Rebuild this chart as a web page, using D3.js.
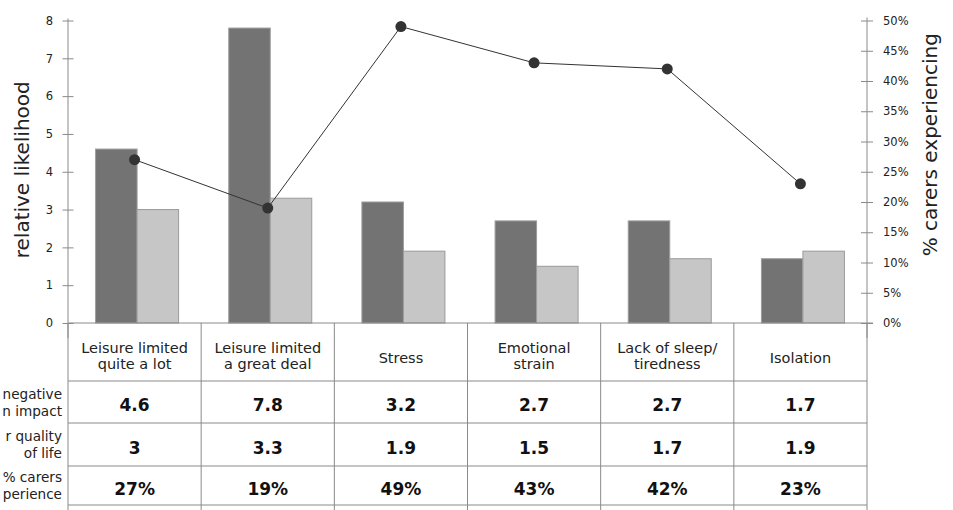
<!DOCTYPE html>
<html>
<head>
<meta charset="utf-8">
<script src="https://cdn.jsdelivr.net/npm/d3@7"></script>
<style>
  html, body { margin: 0; padding: 0; background: #fff; overflow: hidden; }
  svg { display: block; }
</style>
</head>
<body>
<svg id="chart" width="953" height="510"></svg>
<script>
// Categories (header lines split on "\n")
const categories = [
  "Leisure limited\nquite a lot",
  "Leisure limited\na great deal",
  "Stress",
  "Emotional\nstrain",
  "Lack of sleep/\ntiredness",
  "Isolation"
];
// Relative likelihood of a negative impact (dark bars)
const negativeImpact = [4.6, 7.8, 3.2, 2.7, 2.7, 1.7];
// Relative likelihood of poorer quality of life (light bars)
const poorerQuality = [3, 3.3, 1.9, 1.5, 1.7, 1.9];
// Share of carers experiencing each (line, right axis)
const carersPct = [0.27, 0.19, 0.49, 0.43, 0.42, 0.23];

const leftTicks = [0, 1, 2, 3, 4, 5, 6, 7, 8];
const rightTicks = [0, 0.05, 0.10, 0.15, 0.20, 0.25, 0.30, 0.35, 0.40, 0.45, 0.50];

// Row labels of the table under the chart (the part that fits left of the grid)
const rowLabels = [
  ["negative", "n impact"],
  ["r quality", "of life"],
  ["% carers", "perience"]
];

const svg = d3.select("#chart");
const font = "'DejaVu Sans', Verdana, sans-serif";

const plotLeft = 68, plotRight = 867, plotTop = 20.5, plotBase = 323;
const x = d3.scaleBand().domain(categories).range([plotLeft, plotRight]).padding(0);
const bw = x.bandwidth();
const x1 = d3.scaleBand().domain(["neg", "qol"]).range([bw / 2 - 39, bw / 2 + 44]).padding(0);
const y = d3.scaleLinear().domain([0, 8]).range([plotBase, plotTop]);
const y2 = d3.scaleLinear().domain([0, 0.5]).range([plotBase, plotTop]);

const axisColor = "#8a8a8a";

// Bars
const barData = categories.map((c, i) => ({ c, neg: negativeImpact[i], qol: poorerQuality[i] }));
const groups = svg.append("g").selectAll("g").data(barData).join("g")
  .attr("transform", d => `translate(${x(d.c)},0)`);
groups.append("rect")
  .attr("x", x1("neg")).attr("width", x1.bandwidth())
  .attr("y", d => y(d.neg)).attr("height", d => y(0) - y(d.neg))
  .attr("fill", "#737373").attr("stroke", "#9c9c9c").attr("stroke-width", 1);
groups.append("rect")
  .attr("x", x1("qol")).attr("width", x1.bandwidth())
  .attr("y", d => y(d.qol)).attr("height", d => y(0) - y(d.qol))
  .attr("fill", "#c6c6c7").attr("stroke", "#9a9a9a").attr("stroke-width", 1);

// Left axis
const gl = svg.append("g").attr("transform", `translate(${plotLeft},0)`)
  .call(d3.axisLeft(y).tickValues(leftTicks).tickFormat(d3.format("d")).tickSize(5).tickPadding(10).tickSizeOuter(0));
gl.select(".domain").remove();
gl.selectAll(".tick line").attr("x1", -5.5).attr("x2", 5.5).attr("stroke", axisColor);
gl.selectAll(".tick text").attr("font-family", font).attr("font-size", 11.5).attr("fill", "#222");
svg.append("line").attr("x1", plotLeft).attr("x2", plotLeft).attr("y1", y(8) - 2).attr("y2", y(0) + 15)
  .attr("stroke", axisColor);

// Right axis
const gr = svg.append("g").attr("transform", `translate(${plotRight},0)`)
  .call(d3.axisRight(y2).tickValues(rightTicks).tickFormat(d3.format(".0%")).tickSize(6).tickPadding(10).tickSizeOuter(0));
gr.select(".domain").remove();
gr.selectAll(".tick line").attr("x1", -6).attr("x2", 6).attr("stroke", axisColor);
gr.selectAll(".tick text").attr("font-family", font).attr("font-size", 11.5).attr("fill", "#222");
svg.append("line").attr("x1", plotRight).attr("x2", plotRight).attr("y1", y2(0.5) - 3).attr("y2", y2(0) + 15)
  .attr("stroke", axisColor);

// Axis titles
svg.append("text").attr("transform", `translate(29,${(y(8) + y(0)) / 2 - 2}) rotate(-90)`)
  .attr("text-anchor", "middle").attr("font-family", font).attr("font-size", 20).attr("fill", "#222")
  .text("relative likelihood");
svg.append("text").attr("transform", `translate(937,${(y2(0.5) + y2(0)) / 2 - 27}) rotate(-90)`)
  .attr("text-anchor", "middle").attr("font-family", font).attr("font-size", 20).attr("fill", "#222")
  .text("% carers experiencing");

// Table grid
const rowEdges = [plotBase, 381, 423, 466, 505];
const grid = svg.append("g").attr("stroke", axisColor).attr("stroke-width", 1);
grid.append("line").attr("x1", plotLeft).attr("x2", plotRight + 6).attr("y1", plotBase).attr("y2", plotBase);
rowEdges.slice(1).forEach(r => {
  grid.append("line").attr("x1", plotLeft).attr("x2", plotRight).attr("y1", r).attr("y2", r);
});
categories.forEach(c => {
  grid.append("line").attr("x1", x(c) + bw).attr("x2", x(c) + bw).attr("y1", plotBase).attr("y2", 515);
});
grid.append("line").attr("x1", plotLeft).attr("x2", plotLeft).attr("y1", plotBase).attr("y2", 515);

// Header cells
categories.forEach(c => {
  const lines = c.split("\n");
  const cx = x(c) + bw / 2;
  const mid = 361;
  lines.forEach((ln, j) => {
    svg.append("text").attr("x", cx).attr("y", mid + (j - (lines.length - 1) / 2) * 16.5 + (lines.length === 1 ? 2 : 0))
      .attr("text-anchor", "middle").attr("font-family", font).attr("font-size", 14.5).attr("fill", "#222")
      .text(ln);
  });
});

// Value rows
const rows = [
  negativeImpact.map(v => String(v)),
  poorerQuality.map(v => String(v)),
  carersPct.map(v => d3.format(".0%")(v))
];
rows.forEach((vals, r) => {
  const cy = (rowEdges[r + 1] + rowEdges[r + 2]) / 2;
  vals.forEach((v, i) => {
    svg.append("text").attr("x", x(categories[i]) + bw / 2).attr("y", cy + 9)
      .attr("text-anchor", "middle").attr("font-family", font).attr("font-size", 17)
      .attr("font-weight", "bold").attr("fill", "#111").text(v);
  });
  rowLabels[r].forEach((ln, j) => {
    svg.append("text").attr("x", 62).attr("y", cy + 5 + (j - 0.5) * 17)
      .attr("text-anchor", "end").attr("font-family", font).attr("font-size", 13.6).attr("fill", "#222")
      .text(ln);
  });
});

// Line of % carers
const pts = categories.map((c, i) => [x(c) + bw / 2, y2(carersPct[i])]);
svg.append("path").attr("d", d3.line()(pts)).attr("fill", "none").attr("stroke", "#333").attr("stroke-width", 1);
svg.append("g").selectAll("circle").data(pts).join("circle")
  .attr("cx", d => d[0]).attr("cy", d => d[1]).attr("r", 5.5).attr("fill", "#333");
</script>
</body>
</html>
